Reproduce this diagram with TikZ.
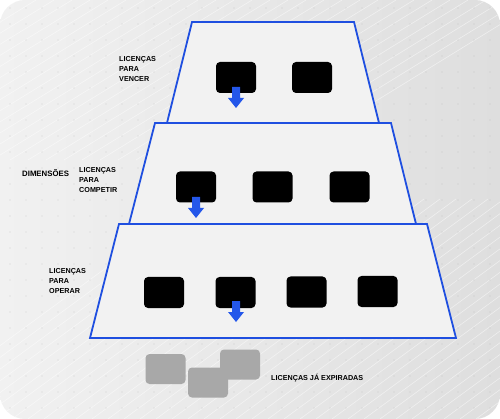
\documentclass[tikz,border=0pt]{standalone}
\usepackage{fontspec}
\setmainfont{Liberation Sans}
\usetikzlibrary{backgrounds}
\definecolor{bgA}{HTML}{F1F1F1}
\definecolor{bgB}{HTML}{DEDEDE}
\definecolor{tierfill}{HTML}{F2F2F2}
\definecolor{tierline}{HTML}{1F4FE0}
\definecolor{arrowblue}{HTML}{2457EA}
\definecolor{expgray}{HTML}{A8A8A8}
\tikzset{
  tier/.style={draw=tierline, fill=tierfill, line width=1.8pt, line join=miter},
  license/.style={fill=black, rounded corners=4pt, minimum width=40pt, minimum height=31pt, inner sep=0pt},
  expired/.style={fill=expgray, rounded corners=4pt, minimum width=40pt, minimum height=30pt, inner sep=0pt},
  lbl/.style={font=\bfseries\fontsize{7.2}{10}\selectfont, align=left, anchor=west, inner sep=0pt, text=black},
  downarrow/.style={fill=arrowblue}
}
\newcommand{\blockarrow}[2]{%
  \fill[downarrow] (#1) ++(-4,0) -- ++(8,0) -- ++(0,11) -- ++(4,0) -- ++(-8,10) -- ++(-8,-10) -- ++(4,0) -- cycle;}
\begin{document}
\begin{tikzpicture}[x=1pt,y=-1pt]
\useasboundingbox (0,0) rectangle (500,419);
\shade[left color=bgA, right color=bgB, rounded corners=25pt] (0,0) rectangle (500,419);
% faint background texture
\begin{scope}
\clip[rounded corners=25pt] (0,0) rectangle (500,419);
\foreach \i in {0,...,30} {
  \draw[white, opacity=0.5, line width=0.6pt] (\i*18,0) -- ++(-260,160);
}
\foreach \i in {0,...,40} {
  \draw[white, opacity=0.5, line width=0.6pt] (-100+\i*16,419) -- ++(300,-220);
}
\foreach \x in {10,26,...,500} {
  \foreach \y in {8,24,...,419} {
    \fill[gray!70, opacity=0.4] (\x,\y) circle (0.55);
  }
}
\end{scope}
% tiers
\draw[tier] (192,22) -- (354,22) -- (379,123) -- (167,123) -- cycle;
\draw[tier] (155,123) -- (391,123) -- (416,224) -- (129,224) -- cycle;
\draw[tier] (119,224) -- (427,224) -- (456,338) -- (90,338) -- cycle;
% top tier boxes
\node[license] (v1) at (236,77.5) {};
\node[license] (v2) at (312,77.5) {};
% middle tier boxes
\node[license] (c1) at (196,187) {};
\node[license] (c2) at (272.5,187) {};
\node[license] (c3) at (349.5,187) {};
% bottom tier boxes
\node[license] (o1) at (164,292.5) {};
\node[license] (o2) at (235.5,292.5) {};
\node[license] (o3) at (306.5,292) {};
\node[license] (o4) at (377.5,291.5) {};
% arrows
\coordinate (a1) at (236,87);
\coordinate (a2) at (196,197);
\coordinate (a3) at (236,301);
\blockarrow{a1}{}
\blockarrow{a2}{}
\blockarrow{a3}{}
% expired licences
\node[expired] (e3) at (240,364.5) {};
\node[expired] (e1) at (165.5,369) {};
\node[expired] (e2) at (208,382.5) {};
% labels
\node[lbl] (lv) at (119,69.5) {LICENÇAS\\PARA\\VENCER};
\node[lbl] (lc) at (79,180) {LICENÇAS\\PARA\\COMPETIR};
\node[lbl] (lo) at (49,281) {LICENÇAS\\PARA\\OPERAR};
\node[lbl, font=\bfseries\fontsize{7.8}{10}\selectfont] (dim) at (22,173) {DIMENSÕES};
\node[lbl] (lx) at (271,378.5) {LICENÇAS JÁ EXPIRADAS};
\end{tikzpicture}
\end{document}
